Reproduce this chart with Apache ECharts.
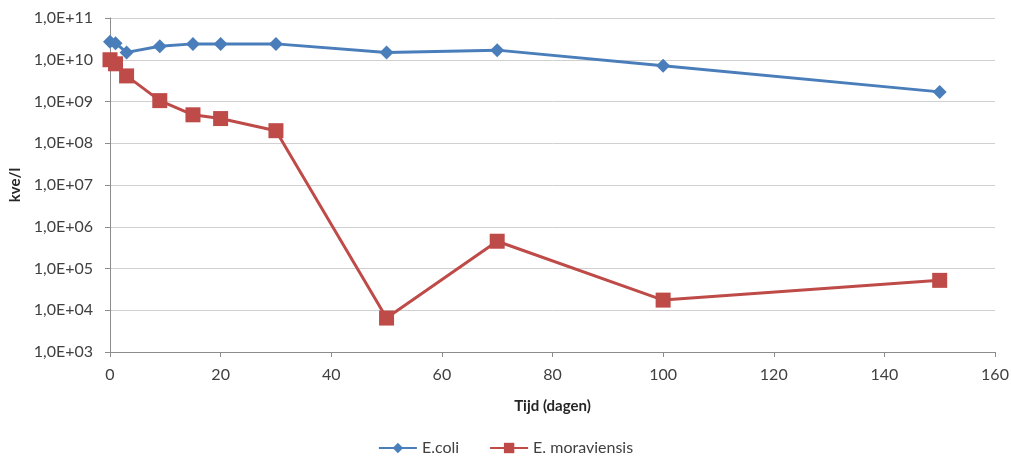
<!DOCTYPE html>
<html>
<head>
<meta charset="utf-8">
<script src="https://cdn.jsdelivr.net/npm/echarts@6/dist/echarts.min.js"></script>
<style>
  html, body { margin: 0; padding: 0; background: #fff; }
  #chart { width: 1011px; height: 462px; }
</style>
</head>
<body>
<div id="chart"></div>
<script>
// Survival over time (days), colony-forming units per litre
const days = [0, 1, 3, 9, 15, 20, 30, 50, 70, 100, 150];
const ecoli = [2.7e10, 2.5e10, 1.5e10, 2.1e10, 2.4e10, 2.4e10, 2.4e10, 1.5e10, 1.7e10, 7.2e9, 1.7e9];
const moraviensis = [1.0e10, 8.0e9, 4.1e9, 1.05e9, 4.8e8, 3.9e8, 2.0e8, 6.5e3, 4.5e5, 1.75e4, 5.2e4];
const seriesNames = ['E.coli', 'E. moraviensis'];
const xTicks = [0, 20, 40, 60, 80, 100, 120, 140, 160];

const font = 'Lato, "Open Sans", sans-serif';

function sciLabel(v) {
  const e = Math.round(Math.log10(v));
  return '1,0E+' + (e < 10 ? '0' + e : String(e));
}

const chart = echarts.init(document.getElementById('chart'));
chart.setOption({
  animation: false,
  textStyle: { fontFamily: font },
  grid: { left: 110, right: 16, top: 18, bottom: 110, containLabel: false, outerBoundsMode: 'none' },
  legend: {
    bottom: 1,
    left: 'center',
    itemWidth: 38,
    itemHeight: 13,
    itemGap: 30,
    textStyle: { fontFamily: font, fontSize: 16, color: '#404040' },
    data: seriesNames
  },
  xAxis: {
    type: 'value',
    min: 0,
    max: 160,
    interval: 20,
    name: 'Tijd (dagen)',
    nameLocation: 'middle',
    nameGap: 47,
    nameTextStyle: { fontFamily: font, fontWeight: 'bold', fontSize: 15, color: '#262626' },
    axisLine: { show: true, lineStyle: { color: '#8c8c8c', width: 1 } },
    axisTick: { show: true, length: 5, lineStyle: { color: '#8c8c8c' } },
    axisLabel: {
      fontSize: 16, color: '#404040', margin: 15,
      customValues: xTicks,
      formatter: v => String(v)
    },
    splitLine: { show: false }
  },
  yAxis: {
    type: 'log',
    logBase: 10,
    min: 1e3,
    max: 1e11,
    name: 'kve/l',
    nameLocation: 'middle',
    nameGap: 86,
    nameRotate: 90,
    nameTextStyle: { fontFamily: font, fontWeight: 'bold', fontSize: 15, color: '#262626' },
    axisLine: { show: true, lineStyle: { color: '#8c8c8c', width: 1 } },
    axisTick: { show: true, length: 5, lineStyle: { color: '#8c8c8c' } },
    axisLabel: { fontSize: 16, color: '#404040', margin: 17, formatter: sciLabel },
    splitLine: { show: true, lineStyle: { color: '#d0d0d0', width: 1 } }
  },
  series: [
    {
      name: seriesNames[0],
      type: 'line',
      data: days.map((d, i) => [d, ecoli[i]]),
      symbol: 'diamond',
      symbolSize: 14,
      lineStyle: { color: '#4a7ebb', width: 3 },
      itemStyle: { color: '#4a7ebb' },
      z: 3
    },
    {
      name: seriesNames[1],
      type: 'line',
      data: days.map((d, i) => [d, moraviensis[i]]),
      symbol: 'rect',
      symbolSize: 15,
      lineStyle: { color: '#be4b48', width: 3 },
      itemStyle: { color: '#be4b48' },
      z: 2
    }
  ]
});
</script>
</body>
</html>
